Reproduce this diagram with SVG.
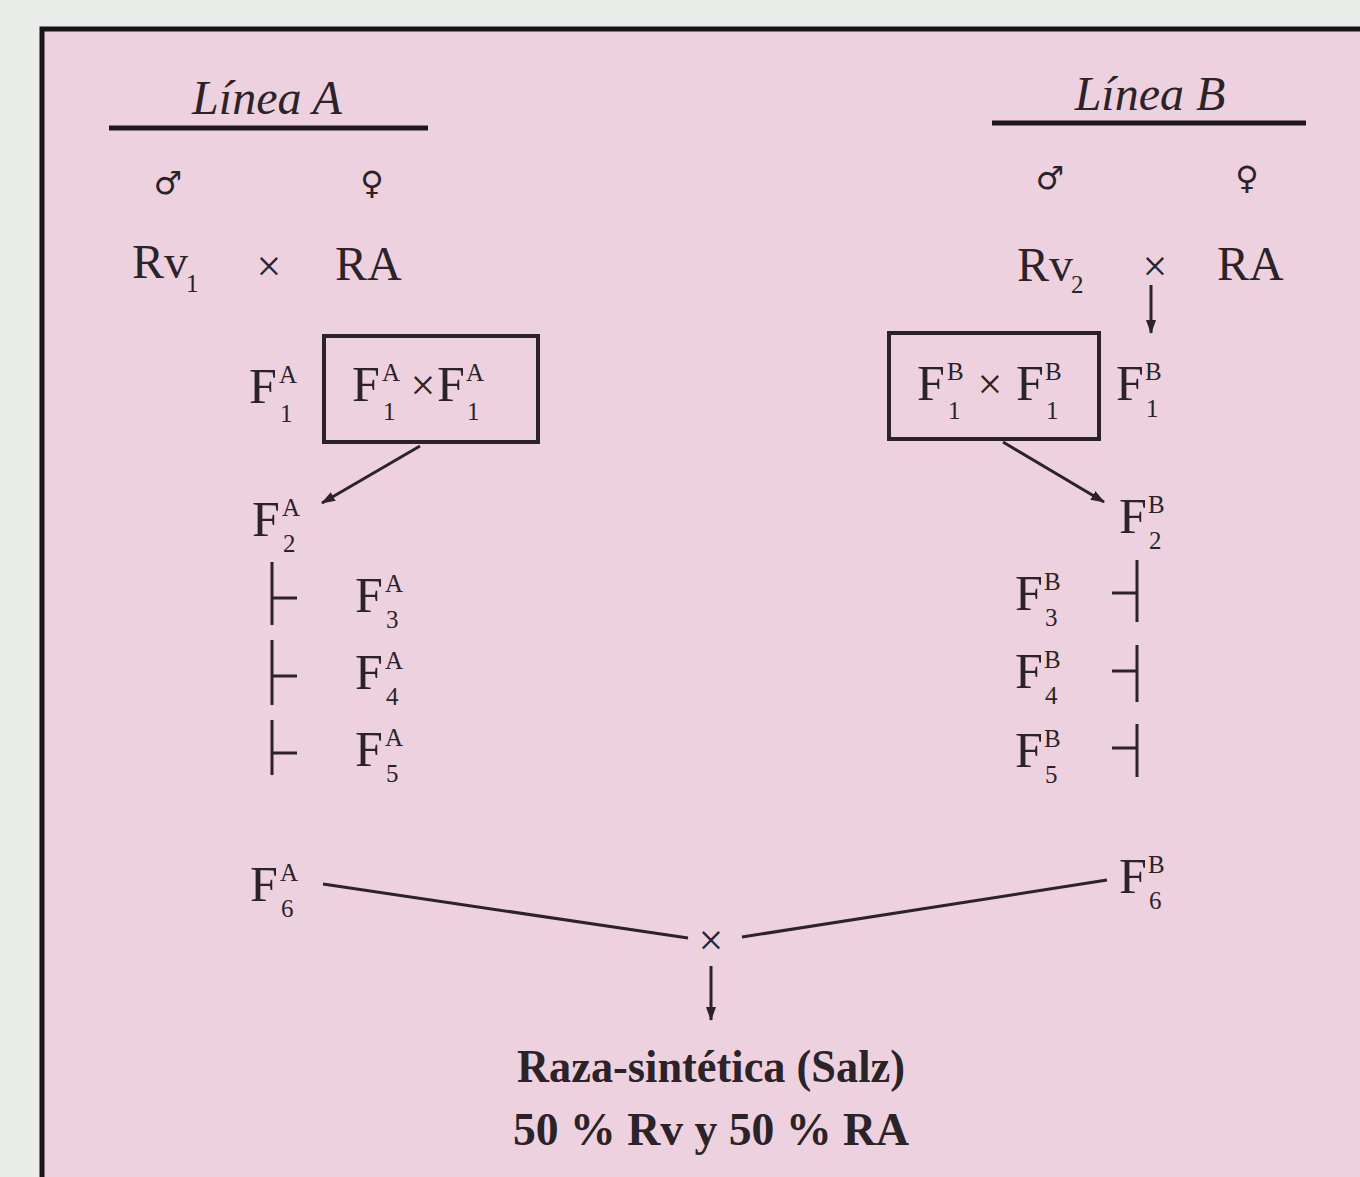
<svg xmlns="http://www.w3.org/2000/svg" width="1360" height="1177" viewBox="0 0 1360 1177">
<defs>
<style>
text{font-family:"Liberation Serif","Times New Roman",serif;fill:#2b2328}
.t{font-size:48px}
.it{font-size:48px;font-style:italic}
.f{font-size:50px}
.s{font-size:25px}
.x{font-size:44px}
.sym{font-family:"DejaVu Sans",sans-serif;font-size:32px}
.b{font-size:46px;font-weight:bold}
.ln{stroke:#2b2328;stroke-width:3;fill:none}
.ul{stroke:#1e181c;stroke-width:5}
.box{fill:none;stroke:#2b2328;stroke-width:4}
</style>
<marker id="ah" viewBox="0 0 14 10" refX="13" refY="5" markerWidth="14" markerHeight="10" markerUnits="userSpaceOnUse" orient="auto">
<path d="M0,0 L14,5 L0,10 Z" fill="#2b2328"/>
</marker>
</defs>
<rect x="0" y="0" width="1360" height="1177" fill="#e9ece9"/>
<rect x="42" y="29" width="1330" height="1160" fill="#edd1df"/>
<path d="M42,1177 L42,29 L1360,29" fill="none" stroke="#1a1418" stroke-width="5"/>

<g id="lineaA">
<text class="it" x="267" y="114" text-anchor="middle">Línea A</text>
<line class="ul" x1="109" y1="128" x2="428" y2="128"/>
<text class="sym" x="168" y="194" text-anchor="middle">♂</text>
<text class="sym" x="372" y="194" text-anchor="middle">♀</text>
<text class="t" x="132" y="278">Rv</text>
<text class="s" x="186" y="292">1</text>
<text class="x" x="269" y="281" text-anchor="middle">×</text>
<text class="t" x="335" y="280">RA</text>
</g>

<g id="lineaB">
<text class="it" x="1150" y="110" text-anchor="middle">Línea B</text>
<line class="ul" x1="992" y1="123" x2="1306" y2="123"/>
<text class="sym" x="1050" y="189" text-anchor="middle">♂</text>
<text class="sym" x="1247" y="189" text-anchor="middle">♀</text>
<text class="t" x="1017" y="281">Rv</text>
<text class="s" x="1071" y="293">2</text>
<text class="x" x="1155" y="281" text-anchor="middle">×</text>
<text class="t" x="1217" y="280">RA</text>
</g>

<g id="F1A"><text class="f" x="249" y="403">F</text><text class="s" x="279" y="383">A</text><text class="s" x="280" y="422">1</text></g>
<g id="boxA">
<rect class="box" x="324" y="336" width="214" height="106"/>
<text class="f" x="352" y="401">F</text><text class="s" x="382" y="381">A</text><text class="s" x="383" y="420">1</text>
<text class="x" x="423" y="400" text-anchor="middle">×</text>
<text class="f" x="437" y="401">F</text><text class="s" x="466" y="381">A</text><text class="s" x="467" y="420">1</text>
</g>
<g id="F2A"><text class="f" x="252" y="536">F</text><text class="s" x="282" y="516">A</text><text class="s" x="283" y="552">2</text></g>
<g id="F3A"><text class="f" x="355" y="612">F</text><text class="s" x="385" y="592">A</text><text class="s" x="386" y="628">3</text></g>
<g id="F4A"><text class="f" x="355" y="689">F</text><text class="s" x="385" y="669">A</text><text class="s" x="386" y="705">4</text></g>
<g id="F5A"><text class="f" x="355" y="766">F</text><text class="s" x="385" y="746">A</text><text class="s" x="386" y="782">5</text></g>
<g id="F6A"><text class="f" x="250" y="901">F</text><text class="s" x="280" y="881">A</text><text class="s" x="281" y="917">6</text></g>

<g id="boxB">
<rect class="box" x="889" y="333" width="210" height="106"/>
<text class="f" x="917" y="400">F</text><text class="s" x="947" y="380">B</text><text class="s" x="948" y="419">1</text>
<text class="x" x="990" y="399" text-anchor="middle">×</text>
<text class="f" x="1016" y="400">F</text><text class="s" x="1045" y="380">B</text><text class="s" x="1046" y="419">1</text>
</g>
<g id="F1B"><text class="f" x="1116" y="400">F</text><text class="s" x="1145" y="380">B</text><text class="s" x="1146" y="417">1</text></g>
<g id="F2B"><text class="f" x="1119" y="533">F</text><text class="s" x="1148" y="513">B</text><text class="s" x="1149" y="549">2</text></g>
<g id="F3B"><text class="f" x="1015" y="610">F</text><text class="s" x="1044" y="590">B</text><text class="s" x="1045" y="626">3</text></g>
<g id="F4B"><text class="f" x="1015" y="688">F</text><text class="s" x="1044" y="668">B</text><text class="s" x="1045" y="704">4</text></g>
<g id="F5B"><text class="f" x="1015" y="767">F</text><text class="s" x="1044" y="747">B</text><text class="s" x="1045" y="783">5</text></g>
<g id="F6B"><text class="f" x="1119" y="893">F</text><text class="s" x="1148" y="873">B</text><text class="s" x="1149" y="909">6</text></g>

<g id="cross"><text class="x" x="711" y="955" text-anchor="middle">×</text></g>

<g id="result">
<text class="b" x="711" y="1082" text-anchor="middle" textLength="388" lengthAdjust="spacingAndGlyphs">Raza-sintética (Salz)</text>
<text class="b" x="711" y="1145" text-anchor="middle" textLength="396" lengthAdjust="spacingAndGlyphs">50 % Rv y 50 % RA</text>
</g>

<g id="connectors">
<line class="ln" x1="1151" y1="285" x2="1151" y2="333" marker-end="url(#ah)"/>
<line class="ln" x1="420" y1="446" x2="322" y2="503" marker-end="url(#ah)"/>
<line class="ln" x1="1003" y1="442" x2="1104" y2="502" marker-end="url(#ah)"/>
<line class="ln" x1="272" y1="562" x2="272" y2="625"/>
<line class="ln" x1="272" y1="640" x2="272" y2="705"/>
<line class="ln" x1="272" y1="720" x2="272" y2="775"/>
<line class="ln" x1="272" y1="598" x2="297" y2="598"/>
<line class="ln" x1="272" y1="676" x2="297" y2="676"/>
<line class="ln" x1="272" y1="753" x2="297" y2="753"/>
<line class="ln" x1="1137" y1="560" x2="1137" y2="622"/>
<line class="ln" x1="1137" y1="645" x2="1137" y2="702"/>
<line class="ln" x1="1137" y1="724" x2="1137" y2="777"/>
<line class="ln" x1="1112" y1="593" x2="1137" y2="593"/>
<line class="ln" x1="1112" y1="671" x2="1137" y2="671"/>
<line class="ln" x1="1112" y1="748" x2="1137" y2="748"/>
<line class="ln" x1="323" y1="884" x2="688" y2="938"/>
<line class="ln" x1="742" y1="937" x2="1107" y2="880"/>
<line class="ln" x1="711" y1="966" x2="711" y2="1020" marker-end="url(#ah)"/>
</g>
</svg>
